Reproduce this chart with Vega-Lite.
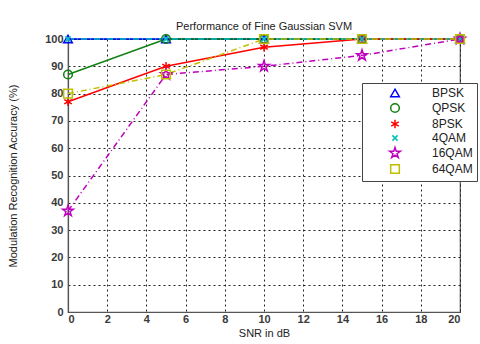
{
  "$schema": "https://vega.github.io/schema/vega-lite/v6.json",
  "width": 392,
  "height": 273,
  "autosize": {"type": "none"},
  "padding": {"left": 68, "top": 39, "right": 20, "bottom": 32},
  "background": "white",
  "config": {
    "font": "Liberation Sans",
    "view": {"stroke": "#555", "strokeWidth": 1.2},
    "axis": {
      "labelFont": "Liberation Sans",
      "labelFontSize": 11,
      "labelFontWeight": "bold",
      "labelColor": "#3a3a3a",
      "titleFont": "Liberation Sans",
      "titleFontSize": 11,
      "titleFontWeight": "normal",
      "titleColor": "#222",
      "domainColor": "#555",
      "domainWidth": 1.2,
      "tickSize": 0,
      "gridColor": "#222",
      "gridDash": [2, 3],
      "gridOpacity": 1,
      "gridWidth": 1
    }
  },
  "title": {
    "text": "Performance of Fine Gaussian SVM",
    "fontSize": 11,
    "fontWeight": "normal",
    "font": "Liberation Sans",
    "color": "#222",
    "offset": -2
  },
  "data": {
    "values": [
      {"snr": 0, "acc": 100, "series": "BPSK", "style": "solid"},
      {"snr": 5, "acc": 100, "series": "BPSK", "style": "solid"},
      {"snr": 10, "acc": 100, "series": "BPSK", "style": "solid"},
      {"snr": 15, "acc": 100, "series": "BPSK", "style": "solid"},
      {"snr": 20, "acc": 100, "series": "BPSK", "style": "solid"},
      {"snr": 0, "acc": 87, "series": "QPSK", "style": "solid"},
      {"snr": 5, "acc": 100, "series": "QPSK", "style": "solid"},
      {"snr": 10, "acc": 100, "series": "QPSK", "style": "solid"},
      {"snr": 15, "acc": 100, "series": "QPSK", "style": "solid"},
      {"snr": 20, "acc": 100, "series": "QPSK", "style": "solid"},
      {"snr": 0, "acc": 77, "series": "8PSK", "style": "solid"},
      {"snr": 5, "acc": 90, "series": "8PSK", "style": "solid"},
      {"snr": 10, "acc": 97, "series": "8PSK", "style": "solid"},
      {"snr": 15, "acc": 100, "series": "8PSK", "style": "solid"},
      {"snr": 20, "acc": 100, "series": "8PSK", "style": "solid"},
      {"snr": 0, "acc": 100, "series": "4QAM", "style": "dashdot"},
      {"snr": 5, "acc": 100, "series": "4QAM", "style": "dashdot"},
      {"snr": 10, "acc": 100, "series": "4QAM", "style": "dashdot"},
      {"snr": 15, "acc": 100, "series": "4QAM", "style": "dashdot"},
      {"snr": 20, "acc": 100, "series": "4QAM", "style": "dashdot"},
      {"snr": 0, "acc": 37, "series": "16QAM", "style": "dashdot"},
      {"snr": 5, "acc": 87, "series": "16QAM", "style": "dashdot"},
      {"snr": 10, "acc": 90, "series": "16QAM", "style": "dashdot"},
      {"snr": 15, "acc": 94, "series": "16QAM", "style": "dashdot"},
      {"snr": 20, "acc": 100, "series": "16QAM", "style": "dashdot"},
      {"snr": 0, "acc": 80, "series": "64QAM", "style": "dashdot"},
      {"snr": 5, "acc": 87, "series": "64QAM", "style": "dashdot"},
      {"snr": 10, "acc": 100, "series": "64QAM", "style": "dashdot"},
      {"snr": 15, "acc": 100, "series": "64QAM", "style": "dashdot"},
      {"snr": 20, "acc": 100, "series": "64QAM", "style": "dashdot"}
    ]
  },
  "encoding": {
    "x": {
      "field": "snr", "type": "quantitative",
      "scale": {"domain": [0, 20], "nice": false},
      "axis": {"values": [0,2,4,6,8,10,12,14,16,18,20], "title": "SNR in dB", "grid": true, "titlePadding": 3, "labelPadding": 1}
    },
    "y": {
      "field": "acc", "type": "quantitative",
      "scale": {"domain": [0, 100], "nice": false},
      "axis": {"values": [0,10,20,30,40,50,60,70,80,90,100], "title": "Modulation Recognition Accuracy (%)", "grid": true, "labelPadding": 5, "titlePadding": 26}
    },
    "color": {
      "field": "series", "type": "nominal",
      "scale": {
        "domain": ["BPSK", "QPSK", "8PSK", "4QAM", "16QAM", "64QAM"],
        "range": ["#0000ff", "#108010", "#ff0000", "#00bfbf", "#bf00bf", "#bfbf00"]
      },
      "legend": {
        "title": null,
        "orient": "none",
        "legendX": 294,
        "legendY": 44,
        "strokeColor": "#444",
        "fillColor": "white",
        "padding": 4,
        "labelFontSize": 12,
        "labelFont": "Liberation Sans",
        "labelColor": "#222",
        "symbolSize": 75,
        "symbolStrokeWidth": 1.5,
        "symbolFillColor": "transparent",
        "symbolOffset": 23,
        "rowPadding": 0,
        "labelOffset": 31
      }
    }
  },
  "layer": [
    {
      "transform": [{"filter": "datum.style == 'solid'"}],
      "mark": {"type": "line", "strokeWidth": 1.5}
    },
    {
      "transform": [{"filter": "datum.style == 'dashdot'"}],
      "mark": {"type": "line", "strokeWidth": 1.5, "strokeDash": [6, 3, 1, 3]}
    },
    {
      "mark": {"type": "point", "filled": false, "strokeWidth": 1.5, "size": 75, "opacity": 1},
      "encoding": {
        "shape": {
          "field": "series", "type": "nominal",
          "scale": {
            "domain": ["BPSK", "QPSK", "8PSK", "4QAM", "16QAM", "64QAM"],
            "range": [
              "triangle-up",
              "circle",
              "M0,-1L0,1M-0.87,-0.5L0.87,0.5M-0.87,0.5L0.87,-0.5",
              "M-0.6,-0.6L0.6,0.6M-0.6,0.6L0.6,-0.6",
              "M0,-1.3L0.292,-0.402L1.236,-0.402L0.472,0.153L0.764,1.052L0,0.497L-0.764,1.052L-0.472,0.153L-1.236,-0.402L-0.292,-0.402Z",
              "square"
            ]
          }
        }
      }
    }
  ]
}
